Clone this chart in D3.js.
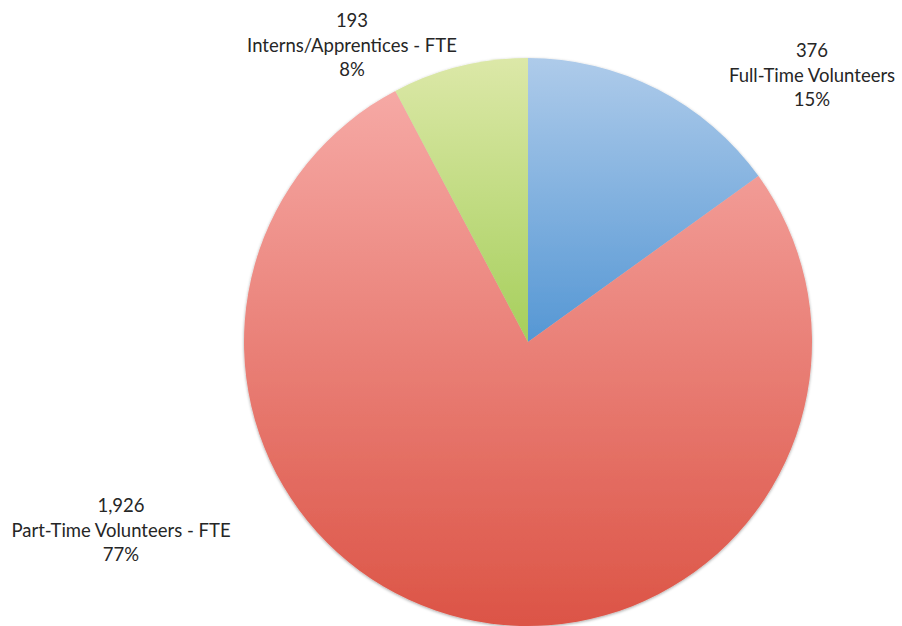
<!DOCTYPE html>
<html>
<head>
<meta charset="utf-8">
<script src="https://cdn.jsdelivr.net/npm/d3@7"></script>
<style>
  body { margin: 0; background: #fff; }
  .lbl { font-family: Lato, "Open Sans", sans-serif; font-size: 18.5px; fill: #262626; }
</style>
</head>
<body>
<div id="chart"></div>
<script>
// data
var categories = ["Full-Time Volunteers", "Part-Time Volunteers - FTE", "Interns/Apprentices - FTE"];
var values = [376, 1926, 193];
var percents = ["15%", "77%", "8%"];
var valueLabels = ["376", "1,926", "193"];

// slice colours: top / bottom of gradient
var topColors = ["#aecbea", "#f6a9a5", "#dce8a8"];
var bottomColors = ["#5597d4", "#dc5446", "#a6cf5c"];

// label placement (center x, baseline of first line)
var labelPos = [[812, 57], [121, 512], [352, 27]];

var width = 902;
var height = 626;
var cx = 528, cy = 342, radius = 284;

var svg = d3.select("#chart")
    .append("svg")
    .attr("width", width)
    .attr("height", height);

var defs = svg.append("defs");

topColors.forEach(function(c, i) {
    var g = defs.append("linearGradient")
        .attr("id", "grad" + i)
        .attr("x1", 0).attr("y1", 0)
        .attr("x2", 0).attr("y2", 1);
    g.append("stop").attr("offset", "0%").attr("stop-color", c);
    g.append("stop").attr("offset", "100%").attr("stop-color", bottomColors[i]);
});

// soft edge shadow
var f = defs.append("filter").attr("id", "shadow")
    .attr("x", "-10%").attr("y", "-10%").attr("width", "120%").attr("height", "120%");
f.append("feDropShadow")
    .attr("dx", 0).attr("dy", 1)
    .attr("stdDeviation", 1.5)
    .attr("flood-color", "#000")
    .attr("flood-opacity", 0.35);

var pie = d3.pie().sort(null).value(function(d) { return d; });
var arc = d3.arc().innerRadius(0).outerRadius(radius);

var g = svg.append("g")
    .attr("transform", `translate(${cx}, ${cy})`)
    .attr("filter", "url(#shadow)");

g.selectAll("path")
    .data(pie(values))
    .enter()
    .append("path")
    .attr("d", arc)
    .attr("fill", function(d, i) { return "url(#grad" + i + ")"; });

// labels
categories.forEach(function(name, i) {
    var t = svg.append("text")
        .attr("class", "lbl")
        .attr("text-anchor", "middle")
        .attr("x", labelPos[i][0])
        .attr("y", labelPos[i][1]);
    var lines = [valueLabels[i], name, percents[i]];
    lines.forEach(function(s, j) {
        t.append("tspan")
            .attr("x", labelPos[i][0])
            .attr("dy", j === 0 ? 0 : 24.5)
            .text(s);
    });
});
</script>
</body>
</html>
